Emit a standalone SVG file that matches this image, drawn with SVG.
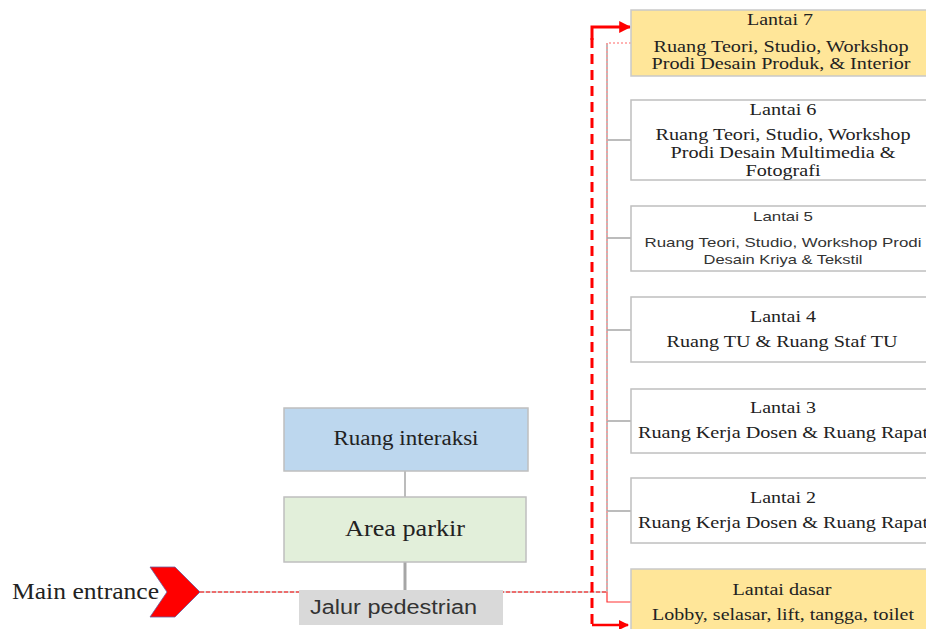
<svg xmlns="http://www.w3.org/2000/svg" width="926" height="629" viewBox="0 0 926 629">
<style>
.serif{font-family:"Liberation Serif","Times New Roman",serif;fill:#222}
.sans{font-family:"Liberation Sans",Arial,sans-serif;fill:#333}
.box{stroke:#bfbfbf;stroke-width:1.5}
.wbox{fill:#ffffff;stroke:#bfbfbf;stroke-width:1.5}
.gold{fill:#ffe699;stroke:#c9c9c9;stroke-width:1.5}
.gray{stroke:#a6a6a6;stroke-width:1.5;fill:none}
.r{font-size:16px;text-anchor:middle}
.s{font-size:13px;text-anchor:middle}
</style>
<defs>
<marker id="ah" viewBox="0 0 10 10" refX="9" refY="5" markerWidth="4" markerHeight="4" orient="auto" markerUnits="strokeWidth">
<path d="M0,0 L10,5 L0,10 z" fill="#ff0000"/>
</marker>
</defs>

<g id="connectors">
<line class="gray" x1="405" y1="471" x2="405" y2="497"/>
<line x1="405" y1="562" x2="405" y2="590" stroke="#a6a6a6" stroke-width="3"/>
<line x1="200" y1="592" x2="607" y2="592" stroke="#cccccc" stroke-width="1.5"/>
<line x1="200" y1="592" x2="607" y2="592" stroke="#ff0000" stroke-width="1" stroke-dasharray="4 2"/>
<line class="gray" x1="607" y1="43" x2="607" y2="592"/>
<line class="gray" x1="607" y1="140" x2="631" y2="140"/>
<line class="gray" x1="607" y1="238" x2="631" y2="238"/>
<line class="gray" x1="607" y1="330" x2="631" y2="330"/>
<line class="gray" x1="607" y1="421" x2="631" y2="421"/>
<line class="gray" x1="607" y1="511" x2="631" y2="511"/>
<polyline points="631,43 607,43 607,592" fill="none" stroke="#ff9999" stroke-width="1.5" stroke-dasharray="2 2"/>
<polyline points="607,592 607,602 631,602" fill="none" stroke="#ff3333" stroke-width="1.2"/>
<line x1="592" y1="38" x2="592" y2="625" stroke="#ff0000" stroke-width="3" stroke-dasharray="10 6"/>
<polyline points="592,40 592,27 630,27" fill="none" stroke="#ff0000" stroke-width="3" marker-end="url(#ah)"/>
<line x1="592" y1="625" x2="628" y2="625" stroke="#ff0000" stroke-width="2.5" marker-end="url(#ah)"/>
</g>

<g id="main-entrance">
<polygon points="150,567 175,567 200,592 175,617 150,617 167,592" fill="#ff0000" stroke="#6a5f9e" stroke-width="0.8"/>
<text class="serif" x="12" y="599" font-size="24" textLength="147" lengthAdjust="spacingAndGlyphs">Main entrance</text>
</g>

<g id="jalur-pedestrian">
<rect x="299" y="590" width="204" height="35" fill="#d9d9d9"/>
<text class="sans" x="310" y="614" font-size="20" textLength="167" lengthAdjust="spacingAndGlyphs">Jalur pedestrian</text>
</g>

<g id="ruang-interaksi">
<rect class="box" x="284" y="408" width="244" height="63" fill="#bdd7ee"/>
<text class="serif" x="406" y="445" font-size="20" text-anchor="middle" textLength="145" lengthAdjust="spacingAndGlyphs">Ruang interaksi</text>
</g>

<g id="area-parkir">
<rect class="box" x="284" y="497" width="242" height="65" fill="#e2efda"/>
<text class="serif" x="405" y="536" font-size="24" text-anchor="middle" textLength="120" lengthAdjust="spacingAndGlyphs">Area parkir</text>
</g>

<g id="lantai-7">
<rect class="gold" x="631" y="10" width="310" height="66"/>
<text class="serif r" x="780" y="25" textLength="66" lengthAdjust="spacingAndGlyphs">Lantai 7</text>
<text class="serif r" x="781" y="52" textLength="255" lengthAdjust="spacingAndGlyphs">Ruang Teori, Studio, Workshop</text>
<text class="serif r" x="781" y="69" textLength="259" lengthAdjust="spacingAndGlyphs">Prodi Desain Produk, &amp; Interior</text>
</g>

<g id="lantai-6">
<rect class="wbox" x="631" y="100" width="310" height="80"/>
<text class="serif r" x="783" y="115" textLength="67" lengthAdjust="spacingAndGlyphs">Lantai 6</text>
<text class="serif r" x="783" y="140" textLength="255" lengthAdjust="spacingAndGlyphs">Ruang Teori, Studio, Workshop</text>
<text class="serif r" x="783" y="158" textLength="225" lengthAdjust="spacingAndGlyphs">Prodi Desain Multimedia &amp;</text>
<text class="serif r" x="783" y="176" textLength="75" lengthAdjust="spacingAndGlyphs">Fotografi</text>
</g>

<g id="lantai-5">
<rect class="wbox" x="631" y="206" width="310" height="65"/>
<text class="sans s" x="783" y="221" textLength="60" lengthAdjust="spacingAndGlyphs">Lantai 5</text>
<text class="sans s" x="783" y="247" textLength="277" lengthAdjust="spacingAndGlyphs">Ruang Teori, Studio, Workshop Prodi</text>
<text class="sans s" x="783" y="264" textLength="159" lengthAdjust="spacingAndGlyphs">Desain Kriya &amp; Tekstil</text>
</g>

<g id="lantai-4">
<rect class="wbox" x="631" y="297" width="310" height="65"/>
<text class="serif r" x="783" y="322" textLength="66" lengthAdjust="spacingAndGlyphs">Lantai 4</text>
<text class="serif r" x="782" y="347" textLength="231" lengthAdjust="spacingAndGlyphs">Ruang TU &amp; Ruang Staf TU</text>
</g>

<g id="lantai-3">
<rect class="wbox" x="631" y="389" width="310" height="64"/>
<text class="serif r" x="783" y="413" textLength="66" lengthAdjust="spacingAndGlyphs">Lantai 3</text>
<text class="serif r" x="783" y="438" textLength="290" lengthAdjust="spacingAndGlyphs">Ruang Kerja Dosen &amp; Ruang Rapat</text>
</g>

<g id="lantai-2">
<rect class="wbox" x="631" y="478" width="310" height="65"/>
<text class="serif r" x="783" y="503" textLength="66" lengthAdjust="spacingAndGlyphs">Lantai 2</text>
<text class="serif r" x="783" y="528" textLength="290" lengthAdjust="spacingAndGlyphs">Ruang Kerja Dosen &amp; Ruang Rapat</text>
</g>

<g id="lantai-dasar">
<rect class="gold" x="631" y="569" width="310" height="70"/>
<text class="serif r" x="782" y="595" textLength="99" lengthAdjust="spacingAndGlyphs">Lantai dasar</text>
<text class="serif r" x="783" y="620" textLength="262" lengthAdjust="spacingAndGlyphs">Lobby, selasar, lift, tangga, toilet</text>
</g>
</svg>
